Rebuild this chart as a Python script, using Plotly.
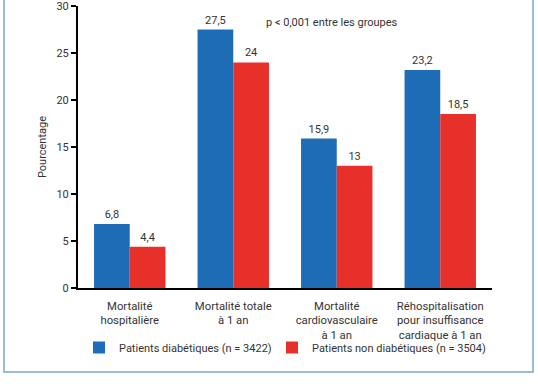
import plotly.graph_objects as go

categories = ["Mortalité<br>hospitalière", "Mortalité totale<br>à 1 an",
              "Mortalité<br>cardiovasculaire<br>à 1 an",
              "Réhospitalisation<br>pour insuffisance<br>cardiaque à 1 an"]
diab = [6.8, 27.5, 15.9, 23.2]
non_diab = [4.4, 24, 13, 18.5]
yticks = [0, 5, 10, 15, 20, 25, 30]

font = "Roboto, Open Sans, sans-serif"
txtcol = "#333333"

fig = go.Figure()
fig.add_trace(go.Bar(x=categories, y=diab, name="Patients diabétiques (n = 3422)",
                     marker=dict(color="#1f6cb6", line=dict(width=0)),
                     texttemplate="%{y}", textposition="outside", cliponaxis=False,
                     textfont=dict(size=11, color=txtcol, family=font),
                     legend="legend"))
fig.add_trace(go.Bar(x=categories, y=non_diab, name="Patients non diabétiques (n = 3504)",
                     marker=dict(color="#e8302b", line=dict(width=0)),
                     texttemplate="%{y}", textposition="outside", cliponaxis=False,
                     textfont=dict(size=11, color=txtcol, family=font),
                     legend="legend2"))

legend_common = dict(orientation="h", xanchor="left", yanchor="top",
                     bgcolor="rgba(0,0,0,0)", itemwidth=30,
                     font=dict(size=11, color=txtcol, family=font))

fig.update_layout(
    width=538, height=384,
    margin=dict(l=78, r=46, t=6, b=96, autoexpand=False),
    paper_bgcolor="white", plot_bgcolor="white",
    separators=", ",
    barmode="group", bargap=0.31, bargroupgap=0,
    font=dict(family=font, size=11, color=txtcol),
    showlegend=True,
    legend=dict(x=(79 - 78) / 414, y=(288 - 333) / 282, **legend_common),
    legend2=dict(x=(272 - 78) / 414, y=(288 - 333) / 282, **legend_common),
    xaxis=dict(showline=True, linecolor="black", linewidth=2, ticks="",
               ticklabelstandoff=6,
               tickfont=dict(size=11.3, color=txtcol), showgrid=False),
    yaxis=dict(range=[0, 30], tickvals=yticks, showline=True, linecolor="black",
               linewidth=2, ticks="outside", ticklen=5, tickcolor="black",
               tickwidth=1.5, showgrid=False, zeroline=False,
               ticklabeloverflow="allow",
               tickfont=dict(size=11, color=txtcol),
               title=dict(text="Pourcentage", font=dict(size=11, color=txtcol),
                          standoff=8)),
    annotations=[dict(text="p < 0,001 entre les groupes", xref="paper", yref="paper",
                      x=(332 - 78) / 414, y=(288 - 14) / 282, showarrow=False,
                      font=dict(size=11, color=txtcol, family=font))],
    shapes=[dict(type="rect", xref="paper", yref="paper",
                 x0=(4 - 78) / 414, x1=(533 - 78) / 414,
                 y0=(288 - 372) / 282, y1=(288 + 5) / 282,
                 line=dict(color="#7aa7cf", width=1.5), layer="above")],
)

fig.write_html("out.html", config={"displayModeBar": False},
               post_script="document.body.style.margin='0';")
